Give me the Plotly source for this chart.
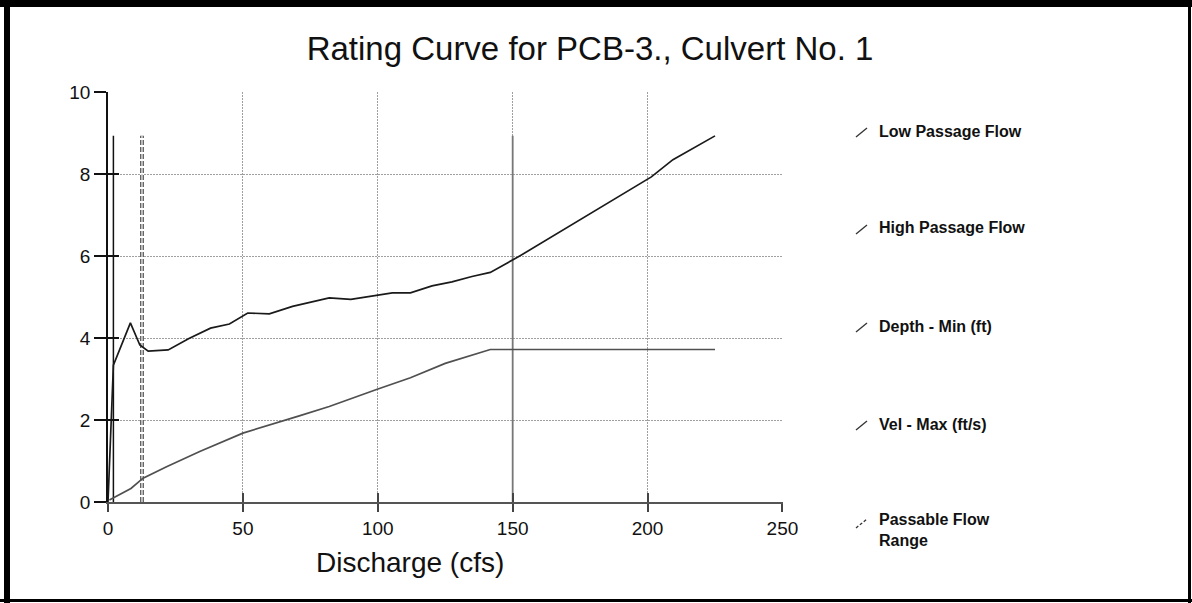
import plotly.graph_objects as go

# Rating curve data for PCB-3, Culvert No. 1
depth_q = [0, 2.0, 8.3, 11.8, 14.9, 22.3, 30.0, 38.0, 45.0, 51.8, 59.8, 68.4,
           82.0, 90.0, 105.4, 112.1, 120.1, 127.5, 134.9, 141.7, 152.1,
           201.4, 209.4, 225.0]
depth_min = [0, 3.34, 4.37, 3.83, 3.68, 3.71, 3.99, 4.24, 4.34, 4.61, 4.59, 4.77,
             4.98, 4.94, 5.10, 5.10, 5.27, 5.37, 5.50, 5.60, 5.98,
             7.93, 8.35, 8.93]

vel_q = [0.5, 8.5, 13.0, 21.7, 34.0, 50.0, 70.9, 82.0, 99.8, 112.1, 125.0, 141.7, 225.0]
vel_max = [0.05, 0.33, 0.58, 0.86, 1.23, 1.68, 2.10, 2.33, 2.75, 3.03, 3.38, 3.72, 3.72]

low_passage_q = 2.0
high_passage_q = 150.0
passable_q = 12.6

x_ticks = [0, 50, 100, 150, 200, 250]
y_ticks = [0, 2, 4, 6, 8, 10]

legend_labels = ["Low Passage Flow", "High Passage Flow", "Depth - Min (ft)",
                 "Vel - Max (ft/s)", "Passable Flow<br>Range"]

FONT = "Liberation Sans, Arial, sans-serif"
W, H = 1192, 603
L, R, T, B = 108, 409, 92, 101
PW, PH = W - L - R, H - T - B


def px_x(px):
    return (px - L) / PW


def px_y(py):
    return (H - B - py) / PH


top = max(depth_min)

fig = go.Figure()

# vertical reference lines
fig.add_trace(go.Scatter(x=[low_passage_q, low_passage_q], y=[0, top], mode="lines",
                         line=dict(color="#111111", width=1.5), showlegend=False,
                         hoverinfo="skip"))
fig.add_trace(go.Scatter(x=[high_passage_q, high_passage_q], y=[0, top], mode="lines",
                         line=dict(color="#777777", width=1.8), showlegend=False,
                         hoverinfo="skip"))
fig.add_trace(go.Scatter(x=[passable_q, passable_q], y=[0, top], mode="lines",
                         line=dict(color="#555555", width=3.8, dash="5px,2px"),
                         showlegend=False, hoverinfo="skip"))
fig.add_trace(go.Scatter(x=[passable_q, passable_q], y=[0, top], mode="lines",
                         line=dict(color="white", width=1.2), showlegend=False,
                         hoverinfo="skip"))

# curves
fig.add_trace(go.Scatter(x=depth_q, y=depth_min, mode="lines",
                         line=dict(color="#1a1a1a", width=1.7), name="Depth - Min (ft)",
                         showlegend=False))
fig.add_trace(go.Scatter(x=vel_q, y=vel_max, mode="lines",
                         line=dict(color="#505050", width=1.7), name="Vel - Max (ft/s)",
                         showlegend=False))

# carrier trace for the overlay axes that draw the inner half of the ticks
fig.add_trace(go.Scatter(x=[0], y=[0], xaxis="x2", yaxis="y2", mode="markers",
                         marker=dict(opacity=0), showlegend=False, hoverinfo="skip"))

shapes = []
annotations = []

# legend
legend_y = [131, 228, 326, 424, 530]
for i, (lab, cy) in enumerate(zip(legend_labels, legend_y)):
    icy = cy + 1 if i < 4 else cy - 7
    shapes.append(dict(type="line", xref="paper", yref="paper",
                       x0=px_x(856), y0=px_y(icy + 5), x1=px_x(867), y1=px_y(icy - 4),
                       line=dict(color="#333333", width=1.3,
                                 dash="solid" if i < 4 else "3px,2px")))
    annotations.append(dict(xref="paper", yref="paper", x=px_x(877), y=px_y(cy),
                            xanchor="left", yanchor="middle", align="left",
                            text="<b>" + lab.replace("<br>", "</b><br><b>") + "</b>",
                            showarrow=False,
                            font=dict(family=FONT, size=16, color="#111111")))

# x axis title
annotations.append(dict(xref="paper", yref="paper", x=px_x(410), y=px_y(562),
                        xanchor="center", yanchor="middle", text="Discharge (cfs)",
                        showarrow=False, font=dict(family=FONT, size=28, color="#111111")))

# page frame
frame = [(7, 0, 7, H, 6), (0, 3.5, W, 3.5, 7), (1189.5, 0, 1189.5, H, 3),
         (0, 600.5, W, 600.5, 3)]
for x0, y0, x1, y1, w in frame:
    shapes.append(dict(type="line", xref="paper", yref="paper",
                       x0=px_x(x0), y0=px_y(y0), x1=px_x(x1), y1=px_y(y1),
                       line=dict(color="black", width=w)))

grid = dict(showgrid=True, gridcolor="#a0a0a0", gridwidth=1, griddash="2px,1px")

fig.update_layout(
    width=W, height=H,
    margin=dict(l=L, r=R, t=T, b=B, pad=0),
    paper_bgcolor="white", plot_bgcolor="white",
    title=dict(text="Rating Curve for PCB-3., Culvert No. 1",
               font=dict(family=FONT, size=33, color="#111111"),
               x=590 / W, xref="container", xanchor="center",
               y=1 - 48 / H, yref="container", yanchor="middle"),
    xaxis=dict(range=[0, 250.2], tickvals=x_ticks, ticks="outside", ticklen=8,
               tickcolor="#444444", tickwidth=1.5, showline=True, linecolor="#555555",
               linewidth=2, zeroline=False,
               tickfont=dict(family=FONT, size=19, color="#111111"), **grid),
    yaxis=dict(range=[0, 10], tickvals=y_ticks, ticks="outside", ticklen=12,
               tickcolor="#111111", tickwidth=1.5, showline=True, linecolor="#111111",
               linewidth=1.5, zeroline=False,
               tickfont=dict(family=FONT, size=19, color="#111111"), **grid),
    xaxis2=dict(range=[0, 250.2], tickvals=x_ticks, ticks="inside", ticklen=9,
                tickcolor="#444444", tickwidth=1.5, overlaying="x", anchor="y2",
                showticklabels=False, showgrid=False, zeroline=False, showline=False),
    yaxis2=dict(range=[0, 10], tickvals=y_ticks, ticks="inside", ticklen=11,
                tickcolor="#111111", tickwidth=1.5, overlaying="y", anchor="x2",
                side="left", showticklabels=False, showgrid=False, zeroline=False,
                showline=False),
    shapes=shapes,
    annotations=annotations,
    showlegend=False,
)

fig.write_html("out.html")
